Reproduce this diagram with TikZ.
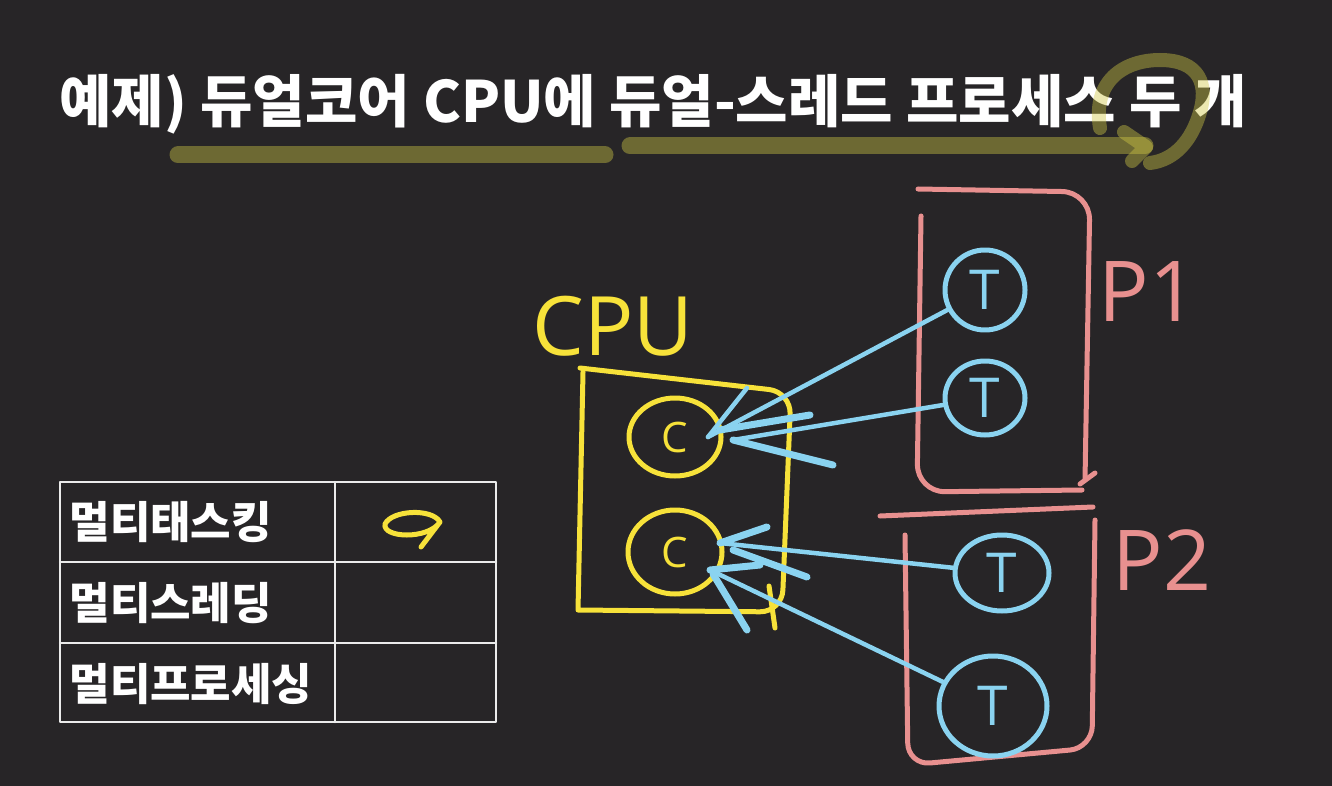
\documentclass[tikz,border=0pt]{standalone}
\usepackage{fontspec}
\setmainfont{Noto Sans CJK KR}
\newfontfamily\handfont{Open Sans}
\usetikzlibrary{shapes.geometric}
\definecolor{bg}{HTML}{272527}
\definecolor{hy}{HTML}{F7E23A}
\definecolor{hp}{HTML}{E8908F}
\definecolor{hb}{HTML}{8AD3F0}
\definecolor{hl}{HTML}{D0C845}
\begin{document}
\begin{tikzpicture}[x=1pt,y=-1pt, line cap=round, line join=round,
  ystroke/.style={draw=hy, line width=5pt},
  pstroke/.style={draw=hp, line width=5pt},
  bstroke/.style={draw=hb, line width=4.5pt},
  bbarb/.style={draw=hb, line width=7pt},
  tbl/.style={draw=white!92!black, line width=2.5pt},
  hilite/.style={draw=hl, line width=17pt, opacity=0.42},
  core/.style={ellipse, ystroke, inner sep=0pt, text=hy, font=\handfont\fontsize{42}{42}\selectfont},
  thr/.style={ellipse, draw=hb, line width=5pt, inner sep=0pt, text=hb, font=\handfont\fontsize{55}{55}\selectfont},
  cell/.style={anchor=west, text=white, font=\bfseries\fontsize{44}{44}\selectfont},
  hand/.style={font=\handfont\fontsize{#1}{#1}\selectfont}
]
\fill[bg] (0,0) rectangle (1332,786);
\useasboundingbox (0,0) rectangle (1332,786);

% title
\node[anchor=west, text=white, font=\bfseries\fontsize{57}{57}\selectfont] (title) at (56,104) {예제) 듀얼코어 CPU에 듀얼-스레드 프로세스 두 개};

% highlights
\draw[hilite] (178,155) -- (605,155);
\draw[hilite] (630,146) -- (1145,146);
\draw[hilite, line width=14pt] (1124,132) -- (1146,147) -- (1132,161);
\draw[hilite, line width=14pt] (1100,128) .. controls (1092,80) and (1125,60) .. (1160,60) .. controls (1200,60) and (1208,85) .. (1200,112) .. controls (1192,140) and (1175,160) .. (1150,163);

% table
\draw[tbl] (60,482) rectangle (496,722);
\draw[tbl] (335,482) -- (335,722);
\draw[tbl] (60,562) -- (496,562);
\draw[tbl] (60,643) -- (496,643);
\node[cell] (r1) at (66,522) {멀티태스킹};
\node[cell] (r2) at (66,603) {멀티스레딩};
\node[cell] (r3) at (66,684) {멀티프로세싱};
\draw[ystroke] (440,522) .. controls (432,508) and (392,510) .. (385,524) .. controls (382,538) and (428,540) .. (440,522) -- (421,547);

% CPU
\node[text=hy, hand=82] (cpu) at (613,326) {CPU};
\draw[ystroke] (583,372) -- (578,610) [rounded corners=22pt] -- (782,612) -- (791,392) [sharp corners] -- (580,368);
\draw[ystroke] (769,586) -- (775,628);
\node[core, minimum width=92pt, minimum height=78pt] (c1) at (675,437) {C};
\node[core, minimum width=94pt, minimum height=84pt] (c2) at (675,552) {C};

% processes
\draw[pstroke, rounded corners=28pt] (918,189) -- (1090,192) -- (1085,480);
\draw[pstroke] (1080,484) -- (1095,473);
\draw[pstroke, rounded corners=28pt] (921,216) -- (917,492) -- (1082,490);
\node[text=hp, hand=84] (p1) at (1148,292) {P1};
\draw[pstroke] (880,516) -- (1093,507);
\draw[pstroke, rounded corners=22pt] (905,535) -- (908,765) -- (1092,748) -- (1095,520);
\node[text=hp, hand=84] (p2) at (1162,560) {P2};

% threads
\node[thr, minimum width=80pt, minimum height=80pt] (t1) at (985,290) {T};
\node[thr, minimum width=80pt, minimum height=74pt] (t2) at (985,398) {T};
\node[thr, minimum width=94pt, minimum height=76pt] (t3) at (1002,573) {T};
\node[thr, minimum width=108pt, minimum height=100pt] (t4) at (993,706) {T};

% connectors
\coordinate (a1) at (708,437);
\coordinate (a2) at (733,440);
\coordinate (a3) at (720,543);
\coordinate (a4) at (710,570);
\draw[bstroke] (t1) -- (a1);
\draw[bstroke] (t2) -- (a2);
\draw[bstroke] (t3) -- (a3);
\draw[bstroke] (t4) -- (a4);
% arrow barbs
\draw[bstroke] (a1) -- (747,388);
\draw[bbarb] (720,430) -- (810,415);
\draw[bbarb] (a2) -- (833,465);
\draw[bbarb] (a3) -- (767,527);
\draw[bbarb] (733,550) -- (807,577);
\draw[bbarb] (a4) -- (760,565);
\draw[bbarb] (713,574) -- (747,630);
\end{tikzpicture}
\end{document}
